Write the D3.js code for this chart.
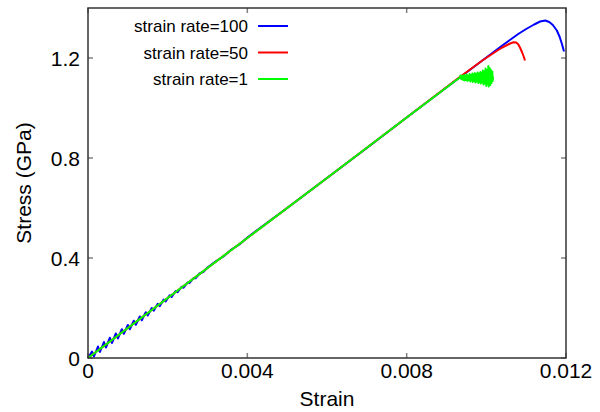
<!DOCTYPE html>
<html lang="en">
<head>
<meta charset="UTF-8">
<title>Stress-strain</title>
<script src="https://d3js.org/d3.v7.min.js"></script>
<style>
  body { margin: 0; background: #fff; }
  svg { display: block; font-family: "Liberation Sans", Arial, sans-serif; }
</style>
</head>
<body>
<div id="chart"></div>
<script>
// ---- data (strain, stress in GPa) ----
const xTicks = [0, 0.004, 0.008, 0.012];
const yTicks = [0, 0.4, 0.8, 1.2];
const xTickLabels = ["0", "0.004", "0.008", "0.012"];
const yTickLabels = ["0", "0.4", "0.8", "1.2"];

const rate100 = [
  [0, 0], [0.0001, 0.026], [0.00015, 0.006], [0.00025, 0.046], [0.0003, 0.024],
  [0.0004, 0.064], [0.00045, 0.042], [0.00055, 0.081], [0.0006, 0.060], [0.0007, 0.098],
  [0.00075, 0.078], [0.00085, 0.115], [0.0009, 0.097], [0.001, 0.132], [0.00105, 0.115],
  [0.00115, 0.149], [0.0012, 0.133], [0.0013, 0.166], [0.00135, 0.151], [0.00145, 0.183],
  [0.0015, 0.170], [0.0016, 0.200], [0.00165, 0.189], [0.00175, 0.217], [0.0018, 0.207],
  [0.0019, 0.234], [0.00195, 0.226], [0.00205, 0.251], [0.0021, 0.244], [0.0022, 0.268],
  [0.00225, 0.263], [0.00235, 0.285], [0.0024, 0.281], [0.0025, 0.302], [0.00255, 0.300],
  [0.00265, 0.320], [0.0027, 0.319], [0.0028, 0.338], [0.0029, 0.345], [0.003, 0.362],
  [0.0032, 0.386], [0.0034, 0.406], [0.0036, 0.434], [0.0038, 0.454], [0.0040, 0.482],
  [0.0050, 0.600], [0.0060, 0.720], [0.0070, 0.840], [0.0080, 0.962],
  [0.0090, 1.082], [0.0093, 1.118], [0.0096, 1.154], [0.0099, 1.190], [0.0102, 1.226],
  [0.0104, 1.250], [0.0106, 1.273], [0.0108, 1.296], [0.0110, 1.316], [0.0112, 1.334],
  [0.01135, 1.346], [0.01148, 1.350], [0.01158, 1.344], [0.01167, 1.332], [0.01177, 1.310],
  [0.01184, 1.285], [0.0119, 1.255], [0.01195, 1.226]
];

const rate50 = [
  [0, 0], [0.002, 0.240], [0.004, 0.480], [0.006, 0.720], [0.008, 0.962],
  [0.0093, 1.120], [0.0096, 1.155], [0.0099, 1.190], [0.0102, 1.222], [0.0104, 1.242],
  [0.0106, 1.258], [0.01068, 1.263], [0.01075, 1.262], [0.0108, 1.255], [0.01085, 1.240],
  [0.0109, 1.222], [0.01094, 1.205], [0.01097, 1.190]
];

const rate1 = [
  [0, 0], [0.002, 0.240], [0.004, 0.480], [0.006, 0.720], [0.008, 0.962],
  [0.0093, 1.118], [0.00934, 1.122], [0.00935, 1.130], [0.00937, 1.116], [0.00938, 1.128],
  [0.0094, 1.114], [0.00941, 1.130], [0.00943, 1.112], [0.00945, 1.132], [0.00946, 1.110],
  [0.00948, 1.128], [0.0095, 1.112], [0.00951, 1.134], [0.00953, 1.108], [0.00955, 1.130],
  [0.00956, 1.112], [0.00958, 1.136], [0.0096, 1.106], [0.00961, 1.132], [0.00963, 1.110],
  [0.00965, 1.138], [0.00966, 1.104], [0.00968, 1.134], [0.0097, 1.108], [0.00971, 1.140],
  [0.00973, 1.102], [0.00975, 1.136], [0.00976, 1.106], [0.00978, 1.142], [0.0098, 1.100],
  [0.00981, 1.138], [0.00983, 1.104], [0.00985, 1.144], [0.00986, 1.098], [0.00988, 1.140],
  [0.0099, 1.102], [0.00991, 1.150], [0.00993, 1.094], [0.00995, 1.146], [0.00996, 1.098],
  [0.00998, 1.158], [0.01, 1.088], [0.01001, 1.152], [0.01003, 1.096], [0.01005, 1.168],
  [0.01006, 1.086], [0.01008, 1.160], [0.0101, 1.092], [0.01011, 1.154], [0.01013, 1.100],
  [0.01015, 1.146], [0.01016, 1.108], [0.01017, 1.126]
];

const seriesNames = ["strain rate=100", "strain rate=50", "strain rate=1"];
const seriesData = [rate100, rate50, rate1];
const seriesColors = ["#0000ff", "#ff0000", "#00ff00"];

// ---- layout ----
const width = 600, height = 412;
const margin = { top: 8, right: 34, bottom: 54, left: 88 };

const svg = d3.select("#chart").append("svg")
  .attr("width", width).attr("height", height);

const x = d3.scaleLinear().domain([0, 0.012]).range([margin.left, width - margin.right]);
const y = d3.scaleLinear().domain([0, 1.4]).range([height - margin.bottom, margin.top]);

// tick marks (inward, mirrored on top/right)
const tickLen = 5;
const ticks = svg.append("g").attr("stroke", "#808080").attr("stroke-width", 1.5);
xTicks.forEach(t => {
  ticks.append("line").attr("x1", x(t)).attr("x2", x(t))
    .attr("y1", y(0)).attr("y2", y(0) - tickLen);
  ticks.append("line").attr("x1", x(t)).attr("x2", x(t))
    .attr("y1", y(1.4)).attr("y2", y(1.4) + tickLen);
});
yTicks.forEach(t => {
  ticks.append("line").attr("x1", x(0)).attr("x2", x(0) + tickLen)
    .attr("y1", y(t)).attr("y2", y(t));
  ticks.append("line").attr("x1", x(0.012)).attr("x2", x(0.012) - tickLen)
    .attr("y1", y(t)).attr("y2", y(t));
});

// curves
const line = d3.line().x(d => x(d[0])).y(d => y(d[1]));
svg.append("g").selectAll("path")
  .data(seriesData)
  .join("path")
  .attr("d", line)
  .attr("fill", "none")
  .attr("stroke", (d, i) => seriesColors[i])
  .attr("stroke-width", 2)
  .attr("stroke-linejoin", "round");

// frame
svg.append("rect")
  .attr("x", x(0)).attr("y", y(1.4))
  .attr("width", x(0.012) - x(0)).attr("height", y(0) - y(1.4))
  .attr("fill", "none").attr("stroke", "#333").attr("stroke-width", 1.5);

// tick labels
svg.append("g").selectAll("text")
  .data(xTicks)
  .join("text")
  .attr("x", d => x(d)).attr("y", y(0) + 20)
  .attr("text-anchor", "middle")
  .attr("font-size", 21)
  .attr("fill", "#000")
  .text((d, i) => xTickLabels[i]);

svg.append("g").selectAll("text")
  .data(yTicks)
  .join("text")
  .attr("x", x(0) - 8).attr("y", d => y(d) + 7.5)
  .attr("text-anchor", "end")
  .attr("font-size", 21)
  .attr("fill", "#000")
  .text((d, i) => yTickLabels[i]);

// axis titles
svg.append("text")
  .attr("x", (x(0) + x(0.012)) / 2).attr("y", 406)
  .attr("text-anchor", "middle").attr("font-size", 21)
  .text("Strain");

svg.append("text")
  .attr("transform", `translate(31,${(y(0) + y(1.4)) / 2}) rotate(-90)`)
  .attr("text-anchor", "middle").attr("font-size", 21)
  .text("Stress (GPa)");

// legend
const legend = svg.append("g");
seriesNames.forEach((name, i) => {
  const ly = 26 + i * 26.5;
  legend.append("text")
    .attr("x", 248).attr("y", ly + 6)
    .attr("text-anchor", "end").attr("font-size", 17)
    .text(name);
  legend.append("line")
    .attr("x1", 258).attr("x2", 288)
    .attr("y1", ly).attr("y2", ly)
    .attr("stroke", seriesColors[i]).attr("stroke-width", 2);
});
</script>
</body>
</html>
